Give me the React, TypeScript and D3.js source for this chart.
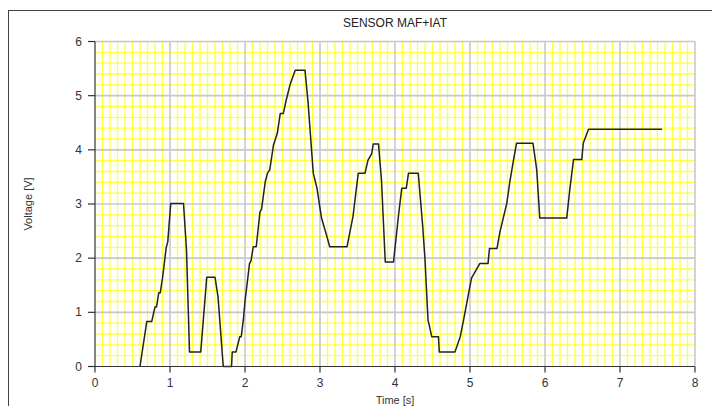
import React from "react";
import * as d3 from "d3";

const TITLE = "SENSOR MAF+IAT";
const X_LABEL = "Time [s]";
const Y_LABEL = "Voltage [V]";
const X_TICKS = [0, 1, 2, 3, 4, 5, 6, 7, 8];
const Y_TICKS = [0, 1, 2, 3, 4, 5, 6];

const TIMES = [
  0.6, 0.69, 0.756, 0.8, 0.82, 0.85, 0.87, 0.9, 0.95, 0.97, 1.01, 1.18, 1.22, 1.26, 1.41, 1.49, 1.6, 1.64, 1.71,
  1.82, 1.83, 1.88, 1.93, 1.95, 1.98, 2.0, 2.06, 2.08, 2.11, 2.15, 2.2, 2.22, 2.27, 2.3, 2.33, 2.38, 2.43, 2.47, 2.51, 2.55, 2.6, 2.67, 2.8,
  2.84, 2.91, 2.96, 3.02, 3.08, 3.13, 3.36, 3.44, 3.51, 3.6, 3.64, 3.69, 3.71, 3.78,
  3.82, 3.87, 3.98, 4.05, 4.09, 4.15, 4.18, 4.31, 4.37, 4.4, 4.44, 4.49, 4.58, 4.59,
  4.8, 4.87, 4.91, 5.02, 5.13, 5.24, 5.26, 5.36, 5.4, 5.49, 5.53, 5.58, 5.62, 5.84,
  5.89, 5.93, 6.29, 6.33, 6.38, 6.49, 6.51, 6.58, 7.56,
];
const VOLTS = [
  0, 0.83, 0.83, 1.1, 1.1, 1.36, 1.36, 1.63, 2.2, 2.3, 3.01, 3.01, 2.15, 0.27, 0.27, 1.65, 1.65, 1.29, 0,
  0, 0.27, 0.27, 0.55, 0.55, 0.89, 1.2, 1.9, 1.95, 2.21, 2.21, 2.86, 2.9, 3.41, 3.57, 3.63, 4.09, 4.3, 4.67, 4.67, 4.92, 5.2, 5.47, 5.47,
  4.89, 3.57, 3.29, 2.74, 2.46, 2.21, 2.21, 2.77, 3.57, 3.57, 3.81, 3.93, 4.11, 4.11,
  3.44, 1.93, 1.93, 2.83, 3.29, 3.29, 3.57, 3.57, 2.58, 1.97, 0.86, 0.55, 0.55, 0.27,
  0.27, 0.55, 0.83, 1.63, 1.9, 1.9, 2.18, 2.18, 2.49, 3.01, 3.4, 3.81, 4.12, 4.12,
  3.63, 2.74, 2.74, 3.26, 3.82, 3.82, 4.12, 4.38, 4.38,
];

const W = 712;
const H = 406;
const L = 95, R = 695, T = 41.5, B = 366.5;

export default function App() {
  const x = d3.scaleLinear().domain([0, 8]).range([L, R]);
  const y = d3.scaleLinear().domain([0, 6]).range([B, T]);
  const minorX = d3.range(0, 80).map((i) => i / 10).filter((v) => Math.abs(v - Math.round(v)) > 1e-6);
  const minorY = d3.range(0, 30).map((i) => i / 5).filter((v) => Math.abs(v - Math.round(v)) > 1e-6);
  const line = d3
    .line<number>()
    .x((_, i) => x(TIMES[i]))
    .y((d) => y(d));
  const font = "'Liberation Sans', Arial, sans-serif";
  return (
    <svg
      width={W}
      height={H}
      style={{ position: "absolute", left: 0, top: 0, background: "#fff" }}
      fontFamily={font}
    >
      <rect x={8.5} y={10.5} width={720} height={420} fill="#fff" stroke="#444" strokeWidth={1} />
      <text x={395} y={26.5} textAnchor="middle" fontSize={12} fill="#222">
        {TITLE}
      </text>
      <g>
        {minorX.map((v) => (
          <line key={"mx" + v} x1={x(v)} x2={x(v)} y1={T} y2={B} stroke="#ffff40" strokeWidth={1.3} />
        ))}
        {minorY.map((v) => (
          <line key={"my" + v} x1={L} x2={R} y1={y(v)} y2={y(v)} stroke="#ffff40" strokeWidth={1.3} />
        ))}
        {X_TICKS.slice(1).map((v) => (
          <line key={"gx" + v} x1={x(v)} x2={x(v)} y1={T} y2={B} stroke="#c8c8c8" strokeWidth={1.6} />
        ))}
        {Y_TICKS.slice(1).map((v) => (
          <line key={"gy" + v} x1={L} x2={R} y1={y(v)} y2={y(v)} stroke="#c8c8c8" strokeWidth={1.6} />
        ))}
      </g>
      <path d={line(VOLTS) || ""} fill="none" stroke="#222" strokeWidth={1.5} strokeLinejoin="round" />
      <g stroke="#333" strokeWidth={1.2}>
        <line x1={L} x2={L} y1={T} y2={B} />
        <line x1={L} x2={R} y1={B} y2={B} />
        {Y_TICKS.map((v) => (
          <line key={"yt" + v} x1={L - 7} x2={L} y1={y(v)} y2={y(v)} />
        ))}
        {X_TICKS.map((v) => (
          <line key={"xt" + v} x1={x(v)} x2={x(v)} y1={B} y2={B + 6} />
        ))}
      </g>
      {Y_TICKS.map((v) => (
        <text key={"yl" + v} x={82} y={y(v) + 4} textAnchor="end" fontSize={12} fill="#333">
          {v}
        </text>
      ))}
      {X_TICKS.map((v) => (
        <text key={"xl" + v} x={x(v)} y={387} textAnchor="middle" fontSize={12} fill="#333">
          {v}
        </text>
      ))}
      <text x={395} y={404} textAnchor="middle" fontSize={11} fill="#333">
        {X_LABEL}
      </text>
      <text
        transform={`translate(32, 204) rotate(-90)`}
        textAnchor="middle"
        fontSize={11}
        fill="#333"
      >
        {Y_LABEL}
      </text>
    </svg>
  );
}
